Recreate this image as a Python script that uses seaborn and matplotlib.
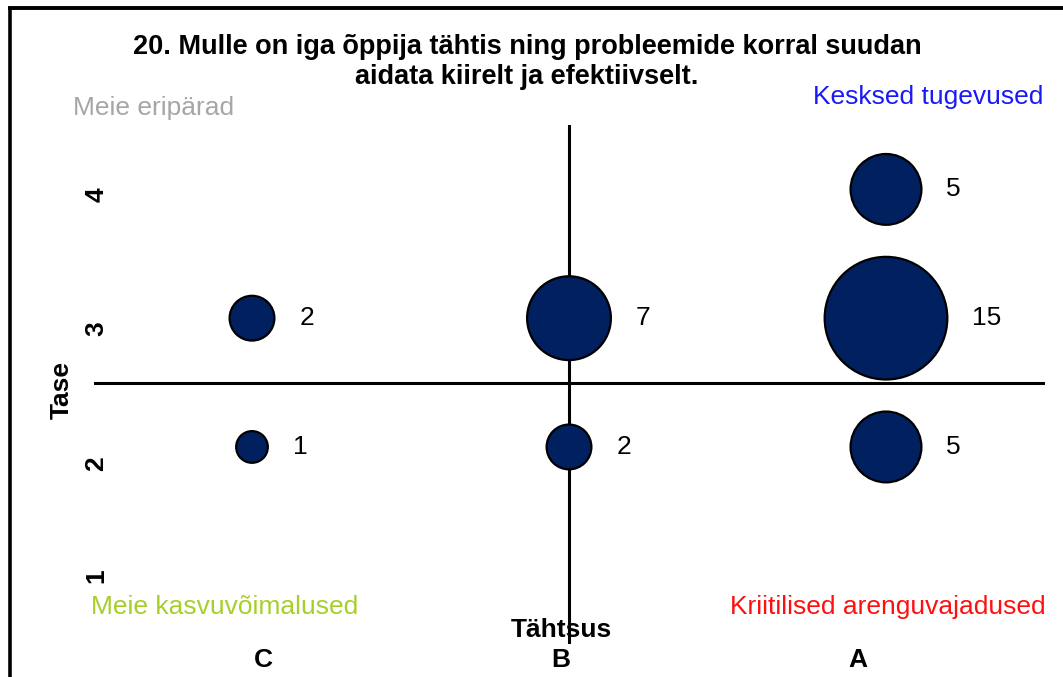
import pandas as pd
import numpy as np
import matplotlib.pyplot as plt
from matplotlib.lines import Line2D
import seaborn as sns

categories = ['C', 'B', 'A']
importance = ['C', 'C', 'B', 'B', 'A', 'A', 'A']
level = [3, 2, 3, 2, 4, 3, 2]
count = [2, 1, 7, 2, 5, 15, 5]
level_ticks = [1, 2, 3, 4]

title = '20. Mulle on iga õppija tähtis ning probleemide korral suudan\naidata kiirelt ja efektiivselt.'

sns.set_style('white')
plt.rcParams['font.family'] = ['Liberation Sans', 'DejaVu Sans']
plt.rcParams['text.color'] = 'black'
plt.rcParams['xtick.color'] = 'black'
plt.rcParams['ytick.color'] = 'black'

df = pd.DataFrame({'Tähtsus': importance, 'Tase': level, 'Arv': count})
df['pos'] = df['Tähtsus'].map({c: i + 1 for i, c in enumerate(categories)})

W, H = 1063, 677
fig = plt.figure(figsize=(W / 100, H / 100), dpi=100)
ax = fig.add_axes([93.5 / W, (H - 644) / H, 951 / W, 519 / H])

k = 520  # points^2 per respondent
max_n = 15
sns.scatterplot(data=df, x='pos', y='Tase', size='Arv', sizes=(0, k * max_n),
                size_norm=(0, max_n), color='#002060', edgecolor='black',
                linewidth=1.6, legend=False, ax=ax, zorder=3)

for _, row in df.iterrows():
    r = np.sqrt(k * row['Arv']) / 2
    ax.annotate(str(row['Arv']), (row['pos'], row['Tase']), xytext=(r + 18, 0),
                textcoords='offset points', ha='left', va='center', fontsize=19)

ax.set_xlim(0.5, 3.5)
ax.set_ylim(0.47, 4.5)
ax.axhline(2.5, color='black', lw=2.2, zorder=4)
ax.axvline(2, color='black', lw=2.2, zorder=2)
for s in ax.spines.values():
    s.set_visible(False)

# tick labels sit a little off the bubble rows/columns, as in the original
ax.set_xticks([1.035, 1.975, 2.91])
ax.set_xticklabels(categories, fontsize=19, fontweight='bold')
ax.set_yticks([1.0, 1.87, 2.92, 3.96])
ax.set_yticklabels([str(t) for t in level_ticks], fontsize=19, fontweight='bold',
                   rotation=90, ha='center', va='center')
ax.tick_params(axis='x', length=0, pad=3)
ax.tick_params(axis='y', length=0, pad=-2)
ax.set_xlabel('')
ax.set_ylabel('')

def fx(x):
    return x / W

def fy(y):
    return 1 - y / H

fig.text(fx(561), fy(630), 'Tähtsus', ha='center', va='center', fontsize=19, fontweight='bold')
fig.text(fx(62), fy(390), 'Tase', ha='center', va='center', fontsize=19,
         fontweight='bold', rotation=90)
fig.text(fx(527), fy(62), title, ha='center', va='center', fontsize=19.5,
         fontweight='bold', linespacing=1.2)

fig.text(fx(73), fy(108), 'Meie eripärad', ha='left', va='center', fontsize=19, color='#A6A6A6')
fig.text(fx(1043), fy(97), 'Kesksed tugevused', ha='right', va='center', fontsize=19, color='#1A1AF5')
fig.text(fx(91), fy(607), 'Meie kasvuvõimalused', ha='left', va='center', fontsize=19, color='#A8CE2A')
fig.text(fx(1046), fy(607), 'Kriitilised arenguvajadused', ha='right', va='center', fontsize=19, color='#FF1010')

# chart frame (only top and left edges are in view)
fig.add_artist(Line2D([fx(9.5), fx(9.5)], [fy(8), fy(H)], color='black', lw=2.6,
                      solid_capstyle='butt', transform=fig.transFigure))
fig.add_artist(Line2D([fx(8), fx(W)], [fy(8), fy(8)], color='black', lw=2.8,
                      solid_capstyle='butt', transform=fig.transFigure))

fig.savefig('out.png', dpi=100)
